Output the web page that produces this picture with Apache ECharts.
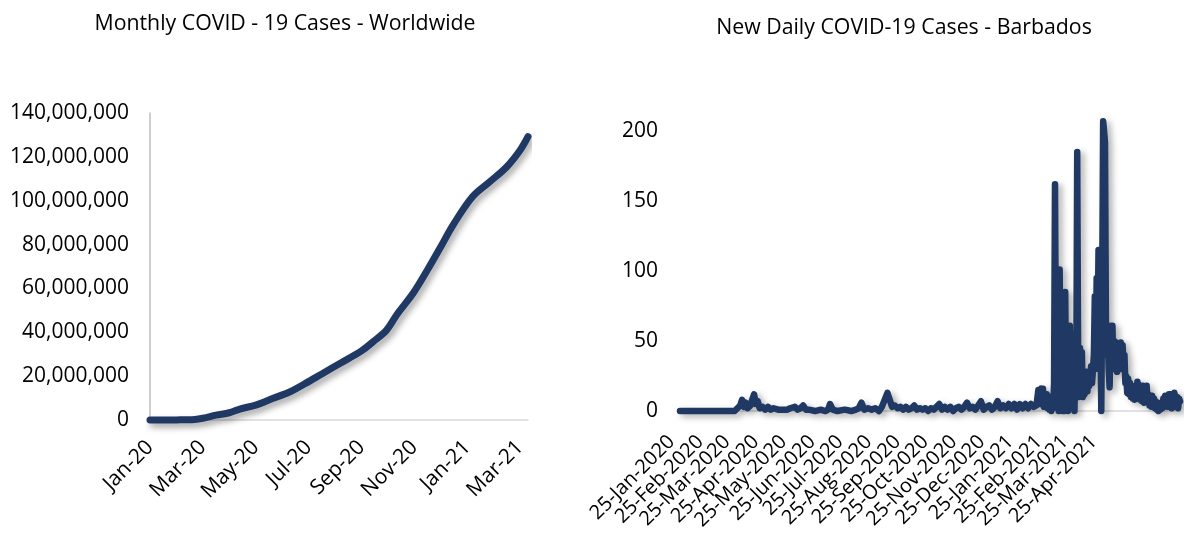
<!DOCTYPE html>
<html>
<head>
<meta charset="utf-8">
<script src="https://cdn.jsdelivr.net/npm/echarts@6/dist/echarts.min.js"></script>
<style>
    html, body { margin:0; padding:0; background:#fff; }
    #chart { width:1186px; height:533px; }
</style>
</head>
<body>
<div id="chart"></div>
<script>
// 左图：全球累计病例 (x = 从 Jan-20 起的月数)
var worldMonth = [0, 1, 1.6, 2, 2.5, 3, 3.4, 4, 4.66, 5.3, 5.9, 6.5, 7.2, 8, 8.44, 8.95, 9.33, 9.96, 10.5, 11, 11.47, 12.2, 12.86, 13.5, 14, 14.3];
var worldCases = [0, 50000, 150000, 800000, 2200000, 3300000, 5000000, 6800000, 9900000, 12900000, 16800000, 21000000, 25900000, 31500000, 35700000, 41000000, 47900000, 57900000, 68500000, 79000000, 89000000, 101800000, 108700000, 115500000, 123000000, 129200000];
var monthTicks = ['Jan-20', 'Mar-20', 'May-20', 'Jul-20', 'Sep-20', 'Nov-20', 'Jan-21', 'Mar-21'];

// 右图：巴巴多斯每日新增 (x = 从 25-Jan-2020 起的天数)
// 前段较平，按天数取点
var quietDay = [0, 59, 62, 65, 67, 69, 71, 73, 76, 78, 80, 82, 84, 86, 89, 92, 95, 98, 101, 103, 106, 108, 111, 113, 116, 119, 121, 124, 127, 130, 133, 136, 139, 146, 152, 157, 160, 162, 165, 170, 178, 185, 190, 193, 196, 199, 203, 207, 211, 215, 218, 221, 224, 226, 229, 232, 235, 238, 241, 244, 247, 250, 253, 256, 259, 262, 265, 268, 271, 274, 277, 280, 283, 286, 289, 292, 295, 298, 301, 304, 307, 310, 313, 316, 319, 322, 325, 328, 331, 334, 337, 340, 343, 346, 349, 352, 355, 358, 361, 364, 367, 370, 373, 376, 379, 382, 385];
var quietCases = [0, 0, 2, 4, 8, 3, 6, 2, 4, 8, 12, 5, 7, 2, 3, 1, 3, 1, 2, 3, 1, 2, 1, 2, 1, 2, 1, 3, 1, 2, 4, 1, 1, 0, 1, 0, 1, 5, 1, 0, 1, 0, 1, 2, 6, 1, 2, 1, 2, 0, 3, 8, 13, 9, 3, 4, 2, 3, 1, 3, 1, 2, 4, 1, 2, 1, 2, 0, 2, 1, 3, 5, 1, 3, 1, 3, 0, 2, 3, 1, 3, 6, 2, 3, 1, 4, 7, 1, 3, 4, 1, 3, 7, 2, 4, 2, 5, 2, 5, 1, 5, 2, 5, 2, 5, 3, 4];
// 第二波每日数据 (从第 386 天起)
var waveStart = 386;
var waveCases = [
    3, 15, 5, 14, 16, 6, 16, 3, 10, 4, 12, 2, 8, 1, 10, 0, 9, 2, 20, 162,
    40, 10, 60, 0, 101, 30, 70, 0, 55, 0, 85, 10, 50, 0, 40, 61, 5, 55, 10, 49,
    0, 30, 20, 185, 30, 10, 45, 15, 42, 10, 25, 12, 17, 28, 14, 28, 18, 25, 32, 20,
    30, 40, 82, 30, 95, 50, 115, 40, 60, 0, 90, 207, 200, 192, 61, 40, 55, 30, 17, 61,
    45, 61, 30, 50, 35, 49, 28, 45, 47, 30, 49, 30, 47, 32, 40, 20, 25, 13, 23, 12,
    20, 10, 18, 9, 16, 8, 15, 10, 21, 10, 18, 8, 18, 7, 18, 6, 15, 8, 18, 6,
    12, 4, 11, 3, 11, 5, 9, 2, 7, 1, 5, 0, 4, 1, 6, 2, 9, 3, 11, 4,
    10, 3, 12, 5, 12, 2, 10, 4, 13, 14, 3, 10, 2, 9, 7
];
var dayTicks = ['25-Jan-2020', '25-Feb-2020', '25-Mar-2020', '25-Apr-2020', '25-May-2020', '25-Jun-2020', '25-Jul-2020', '25-Aug-2020', '25-Sep-2020', '25-Oct-2020', '25-Nov-2020', '25-Dec-2020', '25-Jan-2021', '25-Feb-2021', '25-Mar-2021', '25-Apr-2021'];

var monthNames = ['Jan','Feb','Mar','Apr','May','Jun','Jul','Aug','Sep','Oct','Nov','Dec'];
var dayCount = waveStart + waveCases.length;

// 生成日期类目
var dayCategories = [];
for (var i = 0; i < dayCount; i++) {
    var d = new Date(Date.UTC(2020, 0, 25 + i));
    var dd = d.getUTCDate();
    dayCategories.push((dd < 10 ? '0' + dd : dd) + '-' + monthNames[d.getUTCMonth()] + '-' + d.getUTCFullYear());
}

var worldData = worldMonth.map(function (m, i) { return [m, worldCases[i]]; });
var barbadosData = quietDay.map(function (d, i) { return [d, quietCases[i]]; });
waveCases.forEach(function (v, i) { barbadosData.push([waveStart + i, v]); });

var lineColor = '#1f3864';
var fontName = 'Open Sans';

var chart = echarts.init(document.getElementById('chart'));

var option = {
    animation: false,
    textStyle: { fontFamily: fontName },
    title: [
        {
            text: 'Monthly COVID - 19 Cases - Worldwide',
            left: 280, top: 8, textAlign: 'center',
            textStyle: { fontSize: 21.3, fontWeight: 'normal', color: '#000', fontFamily: fontName }
        },
        {
            text: 'New Daily COVID-19 Cases - Barbados',
            left: 899, top: 12, textAlign: 'center',
            textStyle: { fontSize: 21.3, fontWeight: 'normal', color: '#000', fontFamily: fontName }
        }
    ],
    grid: [
        { left: 150, right: 658, top: 113, bottom: 113 },
        { left: 680, right: 6, top: 131, bottom: 121 }
    ],
    xAxis: [
        {
            gridIndex: 0,
            type: 'value',
            min: 0,
            max: 14.3,
            interval: 2,
            splitLine: { show: false },
            axisTick: { show: false },
            axisLine: { show: true, lineStyle: { color: '#d9d9d9', width: 1.5 } },
            axisLabel: {
                rotate: 45,
                margin: 24,
                fontSize: 21,
                color: '#000',
                showMaxLabel: false,
                formatter: function (v) {
                    return monthTicks[v / 2] || '';
                }
            }
        },
        {
            gridIndex: 1,
            type: 'category',
            data: dayCategories,
            boundaryGap: false,
            axisTick: { show: false },
            axisLine: { show: true, lineStyle: { color: '#d9d9d9', width: 1.5 } },
            axisLabel: {
                rotate: 45,
                margin: 19,
                padding: [0, 12, 0, 0],
                fontSize: 20,
                color: '#000',
                interval: function (index, value) {
                    return dayTicks.indexOf(value) >= 0;
                }
            }
        }
    ],
    yAxis: [
        {
            gridIndex: 0,
            type: 'value',
            min: 0,
            max: 140000000,
            interval: 20000000,
            splitLine: { show: false },
            axisTick: { show: false },
            axisLine: { show: true, lineStyle: { color: '#bfbfbf', width: 1.5 } },
            axisLabel: {
                margin: 21,
                fontSize: 21,
                color: '#000',
                formatter: function (v) { return v.toLocaleString('en-US'); }
            }
        },
        {
            gridIndex: 1,
            type: 'value',
            min: 0,
            max: 200,
            interval: 50,
            splitLine: { show: false },
            axisTick: { show: false },
            axisLine: { show: false },
            axisLabel: { margin: 22, fontSize: 21, color: '#000' }
        }
    ],
    series: [
        {
            name: 'Worldwide',
            type: 'line',
            xAxisIndex: 0,
            yAxisIndex: 0,
            data: worldData,
            smooth: 0.35,
            showSymbol: false,
            clip: false,
            lineStyle: {
                color: lineColor, width: 7, cap: 'round', join: 'round',
                shadowColor: 'rgba(0,0,0,0.35)', shadowBlur: 6, shadowOffsetX: 3, shadowOffsetY: 4
            }
        },
        {
            name: 'Barbados',
            type: 'line',
            xAxisIndex: 1,
            yAxisIndex: 1,
            data: barbadosData,
            showSymbol: false,
            clip: false,
            lineStyle: {
                color: lineColor, width: 6.5, cap: 'round', join: 'round',
                shadowColor: 'rgba(0,0,0,0.3)', shadowBlur: 6, shadowOffsetX: 4, shadowOffsetY: 3
            }
        }
    ]
};

chart.setOption(option, true);
</script>
</body>
</html>
